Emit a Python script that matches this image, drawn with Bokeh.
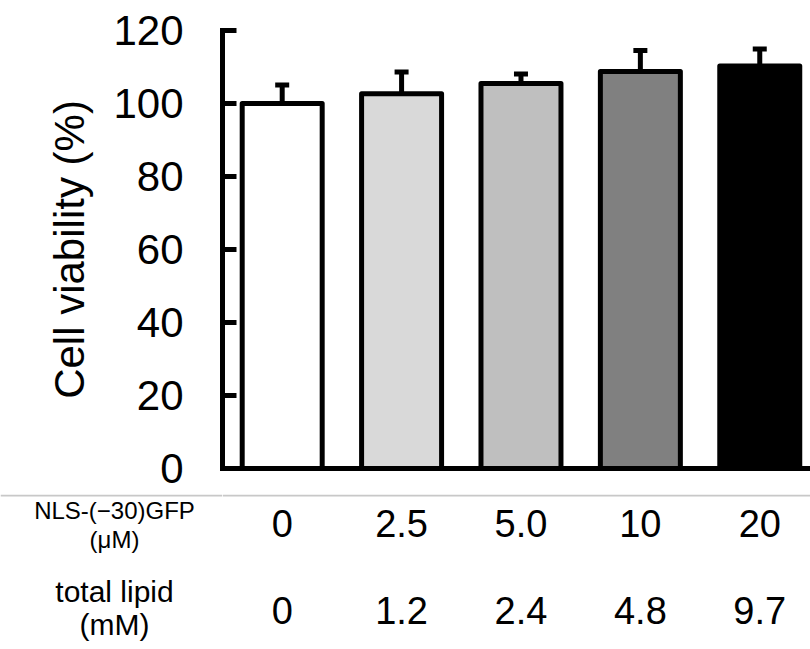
from bokeh.plotting import figure
from bokeh.models import Range1d, FixedTicker, Whisker, TeeHead, ColumnDataSource, Span
from bokeh.layouts import column, row
from bokeh.embed import file_html
from bokeh.resources import INLINE
from bokeh.core.properties import value

# ---- data ----
gfp_conc = ["0", "2.5", "5.0", "10", "20"]
lipid_conc = ["0", "1.2", "2.4", "4.8", "9.7"]
viability = [100.0, 102.7, 105.5, 108.8, 110.3]
sd = [5.1, 5.9, 2.6, 5.7, 4.6]
bar_colors = ["#ffffff", "#d9d9d9", "#bfbfbf", "#808080", "#000000"]
y_ticks = [0, 20, 40, 60, 80, 100, 120]
row1_label = ["NLS-(\u221230)GFP", "(\u03bcM)"]
row2_label = ["total lipid", "(mM)"]

# ---- layout constants (pixels) ----
FONT = "Liberation Sans"
W, H = 810, 649
LEFT, TOP = 222, 30
FRAME_BOTTOM = 468
H_TOP = 494
H_BOT = H - H_TOP
X_START, X_END = -0.5, 4.425

idx = list(range(len(viability)))
src = ColumnDataSource(dict(
    x=idx, top=viability,
    upper=[v + s for v, s in zip(viability, sd)],
    color=bar_colors))

xr = Range1d(X_START, X_END)
p = figure(width=W, height=H_TOP, x_range=xr, y_range=Range1d(0, 120),
           output_backend="svg", toolbar_location=None,
           min_border_left=LEFT, min_border_right=0, min_border_top=TOP,
           min_border_bottom=H_TOP - FRAME_BOTTOM)
p.outline_line_color = None
p.grid.visible = False

p.vbar(x="x", top="top", bottom=0, width=0.67, source=src, fill_color="color",
       line_color="black", line_width=5, line_join="round")

wh = Whisker(source=src, base="x", upper="upper", lower="top",
             line_color="black", line_width=5,
             upper_head=TeeHead(size=14, line_width=5, line_color="black"),
             lower_head=None)
p.add_layout(wh)

ya = p.yaxis[0]
ya.ticker = FixedTicker(ticks=y_ticks)
ya.axis_line_width = 5
ya.axis_line_cap = "square"
ya.major_tick_line_width = 5
ya.major_tick_in = 14
ya.major_tick_out = 0
ya.minor_tick_line_color = None
ya.major_label_text_font = FONT
ya.major_label_text_font_size = "42px"
ya.major_label_text_color = "black"
ya.major_label_standoff = 39
ya.axis_label = "Cell viability (%)"
ya.axis_label_text_font = FONT
ya.axis_label_text_font_size = "42px"
ya.axis_label_text_font_style = "normal"
ya.axis_label_text_color = "black"
ya.axis_label_standoff = 17

xa = p.xaxis[0]
xa.ticker = FixedTicker(ticks=[])
xa.axis_line_width = 5
xa.axis_line_cap = "square"
xa.major_tick_out = 0
xa.major_tick_in = 0
xa.minor_tick_line_color = None
xa.major_label_text_font_size = "0px"

# ---- table below: row headings (left) and values (under the bars) ----
def table_fig(width, x_range):
    f = figure(width=width, height=H_BOT, x_range=x_range,
               y_range=Range1d(H_BOT, 0), output_backend="svg",
               toolbar_location=None, x_axis_type=None, y_axis_type=None,
               min_border=0)
    f.outline_line_color = None
    f.grid.visible = False
    f.add_layout(Span(location=1, dimension="width", line_color="#c8c8c8",
                      line_width=2))
    return f


heads = table_fig(LEFT, Range1d(0, LEFT))
vals = table_fig(W - LEFT, xr)

common = dict(text_font=value(FONT), text_align="center",
              text_baseline="middle", text_color="black")
vals.text(x=idx, y=[29] * 5, text=gfp_conc, text_font_size="38px", **common)
vals.text(x=idx, y=[115.5] * 5, text=lipid_conc, text_font_size="38px", **common)
heads.text(x=[114] * 2, y=[16, 45], text=row1_label, text_font_size="24px", **common)
heads.text(x=[114] * 2, y=[97, 130], text=row2_label, text_font_size="30px", **common)

layout = column(p, row(heads, vals, spacing=0), spacing=0)
open("out.html", "w").write(file_html(layout, INLINE))
